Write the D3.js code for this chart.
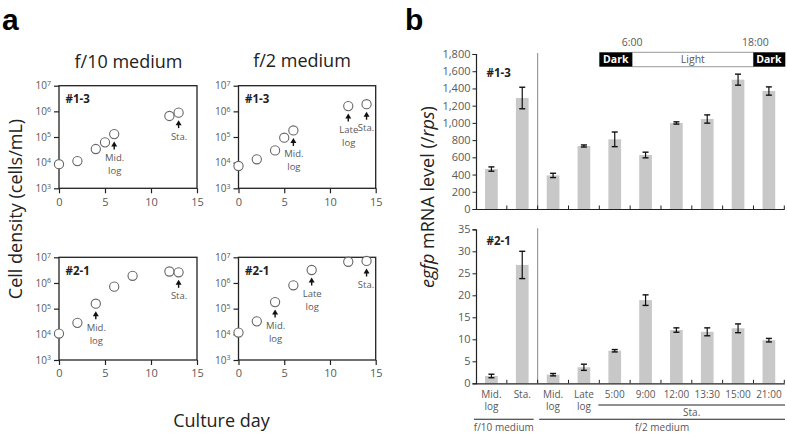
<!DOCTYPE html>
<html><head><meta charset="utf-8">
<script src="https://cdn.jsdelivr.net/npm/d3@7"></script>
<style>body{margin:0;background:#fff;} svg{display:block;font-family:'Open Sans',sans-serif;}</style>
</head><body><svg id="c" width="787" height="436"></svg>
<script>
// ---------- Panel a data (cell density, cells/mL) ----------
const days_13_f10  = [0, 2, 4, 5, 6, 12, 13];
const cells_13_f10 = [8.7e3, 1.15e4, 3.4e4, 6.2e4, 1.3e5, 6.6e5, 8.9e5];
const days_13_f2   = [0, 2, 4, 5, 6, 12, 14];
const cells_13_f2  = [7.4e3, 1.35e4, 3.0e4, 9.4e4, 1.8e5, 1.6e6, 1.9e6];
const days_21_f10  = [0, 2, 4, 6, 8, 12, 13];
const cells_21_f10 = [1.07e4, 2.8e4, 1.56e5, 7.2e5, 1.9e6, 2.8e6, 2.6e6];
const days_21_f2   = [0, 2, 4, 6, 8, 12, 14];
const cells_21_f2  = [1.17e4, 3.2e4, 1.8e5, 8.1e5, 3.2e6, 6.7e6, 7.2e6];

const annot_13_f10 = [{day: 6, lines: ["Mid.", "log"]}, {day: 13, lines: ["Sta."]}];
const annot_13_f2  = [{day: 6, lines: ["Mid.", "log"]}, {day: 12, lines: ["Late", "log"]}, {day: 14, lines: ["Sta."]}];
const annot_21_f10 = [{day: 4, lines: ["Mid.", "log"]}, {day: 13, lines: ["Sta."]}];
const annot_21_f2  = [{day: 4, lines: ["Mid.", "log"]}, {day: 8, lines: ["Late", "log"]}, {day: 14, lines: ["Sta."]}];

const dayTicks = [0, 5, 10, 15];
const densityTicks = [1e3, 1e4, 1e5, 1e6, 1e7];
const mediumTitles = ["f/10 medium", "f/2 medium"];

// ---------- Panel b data (egfp mRNA level, /rps) ----------
const bCategories = ["Mid.|log", "Sta.", "Mid.|log", "Late|log", "5:00", "9:00", "12:00", "13:30", "15:00", "21:00"];
const mrna_13     = [464, 1289, 390, 732, 809, 627, 999, 1045, 1502, 1370];
const mrnaErr_13  = [25, 125, 25, 12, 85, 33, 13, 48, 64, 48];
const mrna_21     = [1.66, 26.9, 1.96, 3.64, 7.4, 18.9, 12.1, 11.7, 12.5, 9.8];
const mrnaErr_21  = [0.4, 3.1, 0.27, 0.7, 0.27, 1.2, 0.5, 0.9, 1.0, 0.4];
const ticks_13 = [0, 200, 400, 600, 800, 1000, 1200, 1400, 1600, 1800];
const ticks_21 = [0, 5, 10, 15, 20, 25, 30, 35];

const svg = d3.select("#c");
const gray = "#595959";

// ---------- Panel a ----------
function growthPanel(o) {
  const x = d3.scaleLinear().domain([0, 15]).range([o.x0, o.x1]);
  const y = d3.scaleLog().domain([1e3, 1e7]).range([o.y1, o.y0]);
  const g = svg.append("g");
  const ya = g.append("g").attr("transform", `translate(${o.x0},0)`)
    .call(d3.axisLeft(y).tickValues(densityTicks).tickSize(5).tickPadding(3).tickFormat(""));
  ya.selectAll(".tick text").each(function(d) {
    const t = d3.select(this).attr("fill", gray).attr("font-size", 10).attr("font-family", "'Open Sans',sans-serif");
    t.append("tspan").text("10");
    t.append("tspan").text(Math.round(Math.log10(d))).attr("font-size", 7).attr("dy", "-0.5em");
  });
  const xa = g.append("g").attr("transform", `translate(0,${o.y1})`)
    .call(d3.axisBottom(x).tickValues(dayTicks).tickSize(5).tickPadding(4.5));
  xa.selectAll(".tick text").attr("fill", gray).attr("font-size", 11).attr("font-family", "'Open Sans',sans-serif");
  [ya, xa].forEach(a => { a.selectAll("line").attr("stroke", "#222").attr("stroke-width", 1.2); a.select(".domain").remove(); });
  g.append("rect").attr("x", o.x0).attr("y", o.y0).attr("width", o.x1 - o.x0).attr("height", o.y1 - o.y0)
    .attr("fill", "none").attr("stroke", "#222").attr("stroke-width", 1.3);
  g.append("text").attr("x", o.x0 + 6.5).attr("y", o.tagY).text(o.tag)
    .attr("font-weight", "bold").attr("font-size", 11.5).attr("fill", "#222");
  g.selectAll("circle.pt").data(o.days).enter().append("circle")
    .attr("cx", d => x(d)).attr("cy", (d, i) => y(o.cells[i])).attr("r", 4.6)
    .attr("fill", "#fff").attr("stroke", "#666").attr("stroke-width", 1.1);
  o.annots.forEach(a => {
    const idx = o.days.indexOf(a.day);
    const px = x(a.day), py = y(o.cells[idx]);
    const tip = py + 7.5, base = tip + 8;
    g.append("line").attr("x1", px).attr("x2", px).attr("y1", tip + 3).attr("y2", base)
      .attr("stroke", "#111").attr("stroke-width", 1.4);
    g.append("path").attr("d", `M${px},${tip}L${px - 3},${tip + 5}L${px + 3},${tip + 5}Z`).attr("fill", "#111");
    a.lines.forEach((ln, k) => {
      const t = g.append("text").attr("x", px + 0.5).attr("y", base + 11.5 + k * 13).attr("text-anchor", "middle")
        .attr("font-size", 9.5).attr("fill", gray).text(ln);
      const w = t.node().getComputedTextLength();
      const cx = Math.min(px + 0.5, o.x1 - 1.5 - w / 2);
      t.attr("x", cx);
    });
  });
}

growthPanel({x0: 59, x1: 197, y0: 85.7, y1: 188.3, days: days_13_f10, cells: cells_13_f10, annots: annot_13_f10, tag: "#1-3", tagY: 103});
growthPanel({x0: 238.5, x1: 375.7, y0: 85.7, y1: 188.3, days: days_13_f2, cells: cells_13_f2, annots: annot_13_f2, tag: "#1-3", tagY: 103});
growthPanel({x0: 59, x1: 197, y0: 257.3, y1: 360, days: days_21_f10, cells: cells_21_f10, annots: annot_21_f10, tag: "#2-1", tagY: 275});
growthPanel({x0: 238.5, x1: 375.7, y0: 257.3, y1: 360, days: days_21_f2, cells: cells_21_f2, annots: annot_21_f2, tag: "#2-1", tagY: 275});

svg.append("text").attr("x", 128.5).attr("y", 68).attr("text-anchor", "middle").attr("font-size", 18).attr("fill", "#222").text(mediumTitles[0]);
svg.append("text").attr("x", 302).attr("y", 67).attr("text-anchor", "middle").attr("font-size", 18).attr("fill", "#222").text(mediumTitles[1]);
svg.append("text").attr("transform", "translate(22,209) rotate(-90)").attr("text-anchor", "middle")
  .attr("font-size", 18).attr("fill", "#222").text("Cell density (cells/mL)");
svg.append("text").attr("x", 221.5).attr("y", 426.5).attr("text-anchor", "middle")
  .attr("font-size", 18).attr("fill", "#222").text("Culture day");
svg.append("text").attr("x", 2).attr("y", 30).attr("font-size", 30).attr("font-weight", "bold").attr("font-family", "Arial, 'Liberation Sans', sans-serif").text("a");
svg.append("text").attr("x", 405).attr("y", 30).attr("font-size", 30).attr("font-weight", "bold").attr("font-family", "Arial, 'Liberation Sans', sans-serif").text("b");

// ---------- Panel b ----------
const bx = d3.scaleBand().domain(d3.range(bCategories.length)).range([476, 784.3]).paddingInner(0.588).paddingOuter(0.294);
const boundary = i => bx(i) + bx.bandwidth() / 2 + bx.step() / 2;

function barChart(o) {
  const y = d3.scaleLinear().domain(o.domain).range([o.yBottom, o.yTop]);
  const g = svg.append("g");
  const ya = g.append("g").attr("transform", "translate(476,0)")
    .call(d3.axisLeft(y).tickValues(o.ticks).tickSize(3.5).tickPadding(2).tickFormat(o.fmt));
  ya.selectAll(".tick text").attr("fill", gray).attr("font-size", 11).attr("font-family", "'Open Sans',sans-serif");
  ya.selectAll("line").attr("stroke", "#222");
  ya.select(".domain").attr("stroke", "#222").attr("stroke-width", 1.2);
  g.append("line").attr("x1", boundary(1)).attr("x2", boundary(1)).attr("y1", o.yTop - 1).attr("y2", o.yBottom)
    .attr("stroke", "#888").attr("stroke-width", 1);
  g.selectAll("rect.bar").data(o.values).enter().append("rect")
    .attr("x", (d, i) => bx(i)).attr("width", bx.bandwidth())
    .attr("y", d => y(d)).attr("height", d => y(0) - y(d)).attr("fill", "#c8c8c8");
  o.values.forEach((v, i) => {
    const cx = bx(i) + bx.bandwidth() / 2, e = o.errs[i];
    const t = y(v + e), b = y(v - e);
    g.append("line").attr("x1", cx).attr("x2", cx).attr("y1", t).attr("y2", b).attr("stroke", "#111").attr("stroke-width", 1.2);
    [t, b].forEach(yy => g.append("line").attr("x1", cx - 3).attr("x2", cx + 3).attr("y1", yy).attr("y2", yy)
      .attr("stroke", "#111").attr("stroke-width", 1.4));
  });
  const xa = g.append("g").attr("transform", `translate(0,${o.yBottom})`)
    .call(d3.axisBottom(bx).tickSize(0).tickSizeOuter(0).tickFormat(""));
  xa.select(".domain").attr("stroke", "#222").attr("stroke-width", 1.2);
  xa.selectAll(".tick").remove();
  bCategories.forEach((c, i) => {
    g.append("line").attr("x1", boundary(i)).attr("x2", boundary(i)).attr("y1", o.yBottom).attr("y2", o.yBottom - 3.5)
      .attr("stroke", "#222").attr("stroke-width", 1);
  });
  g.append("text").attr("x", 486.5).attr("y", o.tagY).text(o.tag)
    .attr("font-weight", "bold").attr("font-size", 11.5).attr("fill", "#222");
  return y;
}

barChart({domain: [0, 1800], yBottom: 209, yTop: 54, ticks: ticks_13, fmt: d3.format(","), values: mrna_13, errs: mrnaErr_13, tag: "#1-3", tagY: 77});
barChart({domain: [0, 35], yBottom: 383.3, yTop: 229.3, ticks: ticks_21, fmt: d3.format("d"), values: mrna_21, errs: mrnaErr_21, tag: "#2-1", tagY: 245});

bCategories.forEach((c, i) => {
  const cx = bx(i) + bx.bandwidth() / 2;
  c.split("|").forEach((ln, k) => {
    svg.append("text").attr("x", cx).attr("y", 397.5 + k * 12.5).attr("text-anchor", "middle")
      .attr("font-size", 10).attr("fill", gray).text(ln);
  });
});
const grp = (x1, x2, yy, label, ty) => {
  svg.append("line").attr("x1", x1).attr("x2", x2).attr("y1", yy).attr("y2", yy).attr("stroke", "#222").attr("stroke-width", 1.1);
  svg.append("text").attr("x", (x1 + x2) / 2).attr("y", ty).attr("text-anchor", "middle").attr("font-size", 10).attr("fill", gray).text(label);
};
grp(boundary(3) - 1, 785, 405, "Sta.", 415.5);
grp(474, boundary(1) - 4, 419.3, "f/10 medium", 430.5);
grp(boundary(1) + 1.5, 785, 419.3, "f/2 medium", 430.5);

const iFirst = bCategories.indexOf("5:00"), iLight = bCategories.indexOf("15:00");
const lx0 = boundary(iFirst - 1), lx1 = boundary(iFirst) + 2, lx2 = boundary(iLight), lx3 = boundary(bCategories.length - 1);
const hy = 52.3, hh = 14.4;
svg.append("rect").attr("x", lx1).attr("y", hy).attr("width", lx2 - lx1).attr("height", hh).attr("fill", "#fff").attr("stroke", "#999").attr("stroke-width", 1);
svg.append("rect").attr("x", lx0).attr("y", hy).attr("width", lx1 - lx0).attr("height", hh).attr("fill", "#000");
svg.append("rect").attr("x", lx2).attr("y", hy).attr("width", lx3 - lx2 + 1).attr("height", hh).attr("fill", "#000");
[[lx0, lx1, "Dark"], [lx2, lx3, "Dark"]].forEach(([a, b, t]) =>
  svg.append("text").attr("x", (a + b) / 2).attr("y", hy + 10.8).attr("text-anchor", "middle").attr("font-size", 10.5)
    .attr("font-weight", "bold").attr("fill", "#fff").text(t));
svg.append("text").attr("x", (lx1 + lx2) / 2).attr("y", hy + 10.8).attr("text-anchor", "middle").attr("font-size", 10.5).attr("fill", gray).text("Light");
svg.append("text").attr("x", lx1).attr("y", 46).attr("text-anchor", "middle").attr("font-size", 10.5).attr("fill", gray).text("6:00");
svg.append("text").attr("x", lx2 + 2).attr("y", 46).attr("text-anchor", "middle").attr("font-size", 10.5).attr("fill", gray).text("18:00");

const yt = svg.append("text").attr("transform", "translate(434,197) rotate(-90)").attr("text-anchor", "middle")
  .attr("font-size", 18).attr("fill", "#222");
yt.append("tspan").attr("font-style", "italic").text("egfp");
yt.append("tspan").text(" mRNA level (/");
yt.append("tspan").attr("font-style", "italic").text("rps");
yt.append("tspan").text(")");
</script></body></html>
